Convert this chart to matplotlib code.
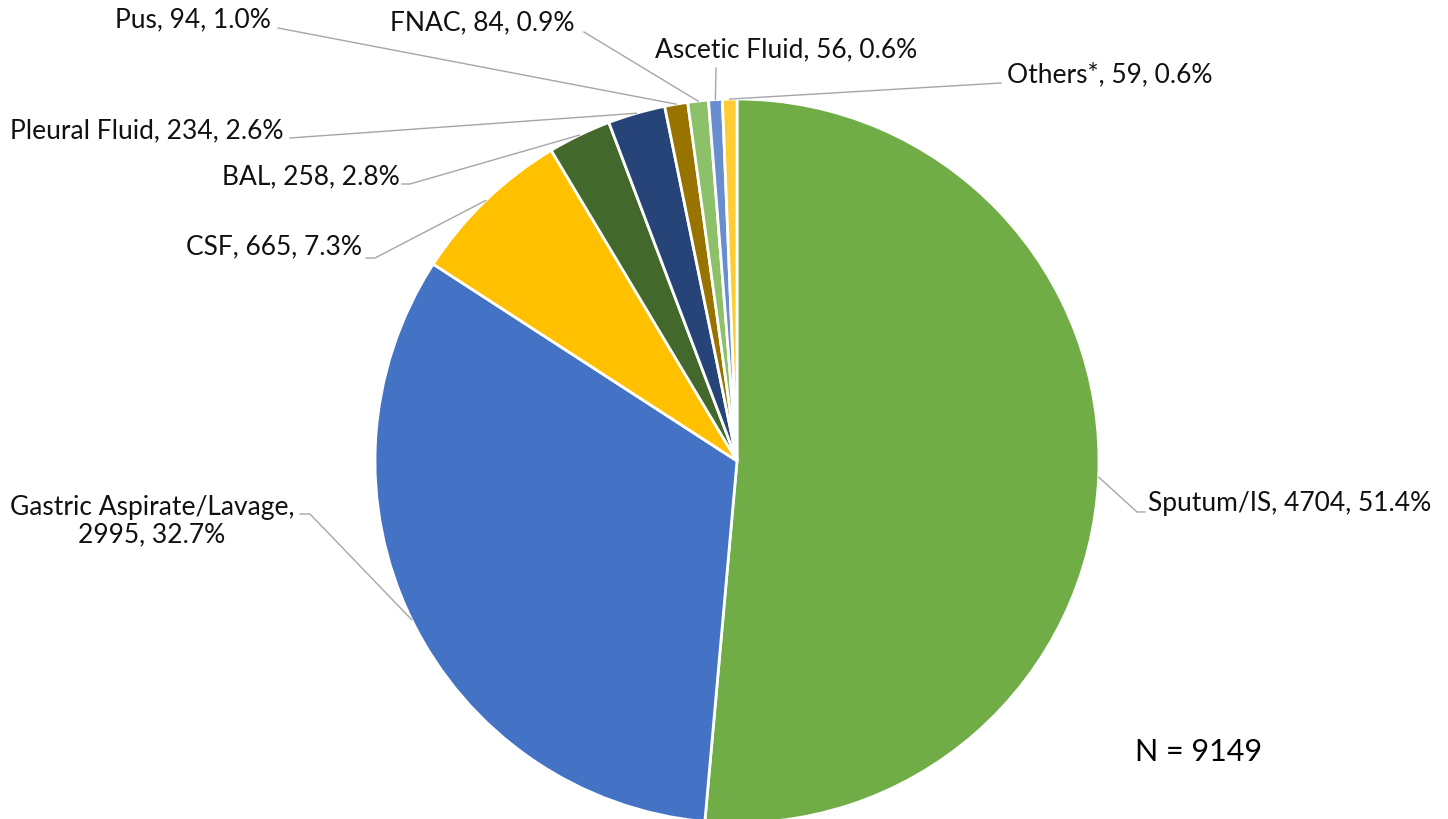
import numpy as np
import matplotlib
matplotlib.use('Agg')
import matplotlib.pyplot as plt

# данные
labels = ['Sputum/IS', 'Gastric Aspirate/Lavage', 'CSF', 'BAL', 'Pleural Fluid',
          'Pus', 'FNAC', 'Ascetic Fluid', 'Others*']
counts = [4704, 2995, 665, 258, 234, 94, 84, 56, 59]
percents = ['51.4%', '32.7%', '7.3%', '2.8%', '2.6%', '1.0%', '0.9%', '0.6%', '0.6%']
colors = ['#70AD47', '#4472C4', '#FFC000', '#43682B', '#264478',
          '#997300', '#8DC169', '#698ED0', '#FFCD33']

# раскладка (в пикселях, y сверху вниз)
W, H = 1448, 819
cx, cy, R = 737, 461, 362
text_pos = [(1148, 503), (152, 521), (362, 247), (400, 177), (283, 131),
            (271, 20), (574, 23), (786, 50), (1007, 75)]
text_ha = ['left', 'center', 'right', 'right', 'right', 'right', 'right', 'center', 'left']
elbow = [(1137, 512), (310, 514), (375, 258), (410, 184), (290, 138),
         (278, 28), (584, 32), (716, 68), (1001, 83)]
line_end = [(1145, 512), (300, 514), (366, 258), (402, 184), (290, 138),
            (278, 28), (584, 32), (716, 68), (1001, 83)]

plt.rcParams['font.family'] = ['Lato', 'DejaVu Sans']

fig = plt.figure(figsize=(W / 100, H / 100), dpi=100)
ax = fig.add_axes([0, 0, 1, 1])


def py(y):
    return H - y


wedges, _ = ax.pie(counts, colors=colors, startangle=90, counterclock=False,
                   center=(cx, py(cy)), radius=R,
                   wedgeprops=dict(edgecolor='white', linewidth=2))
ax.set_xlim(0, W)
ax.set_ylim(0, H)
ax.set_aspect('equal')
ax.axis('off')

for i, w in enumerate(wedges):
    ang = np.deg2rad((w.theta1 + w.theta2) / 2)
    ex = cx + R * np.cos(ang)
    ey = py(cy) + R * np.sin(ang)
    xs = [ex, elbow[i][0], line_end[i][0]]
    ys = [ey, py(elbow[i][1]), py(line_end[i][1])]
    ax.plot(xs, ys, color='#A6A6A6', lw=1, zorder=1)
    if labels[i].startswith('Gastric'):
        txt = '%s,\n%d, %s' % (labels[i], counts[i], percents[i])
    else:
        txt = '%s, %d, %s' % (labels[i], counts[i], percents[i])
    ax.text(text_pos[i][0], py(text_pos[i][1]), txt, ha=text_ha[i], va='center',
            fontsize=19, color='#111111', multialignment='center', linespacing=1.15)

ax.text(1199, py(752), 'N = %d' % sum(counts), ha='center', va='center',
        fontsize=22, color='black')

fig.savefig('out.png', dpi=100)
